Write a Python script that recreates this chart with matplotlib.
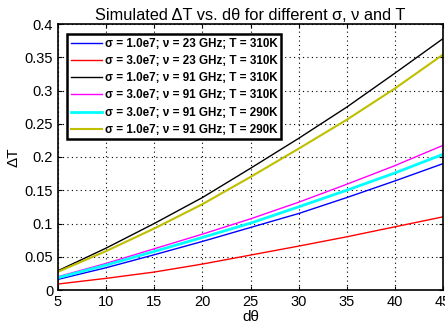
import matplotlib
matplotlib.use("Agg")
import matplotlib.pyplot as plt
from matplotlib.ticker import FuncFormatter

plt.rcParams['font.family'] = ['Liberation Sans', 'DejaVu Sans']

dtheta = [5, 10, 15, 20, 25, 30, 35, 40, 45]
blue = [0.016, 0.0335, 0.053, 0.073, 0.094, 0.115, 0.139, 0.164, 0.19]
red = [0.009, 0.0175, 0.027, 0.039, 0.0525, 0.066, 0.08, 0.095, 0.11]
black = [0.029, 0.063, 0.100, 0.139, 0.183, 0.228, 0.275, 0.326, 0.378]
magenta = [0.02, 0.04, 0.062, 0.084, 0.107, 0.132, 0.159, 0.187, 0.2175]
cyan = [0.0185, 0.0375, 0.058, 0.079, 0.1005, 0.125, 0.15, 0.176, 0.204]
yellow = [0.0275, 0.0585, 0.0925, 0.129, 0.17, 0.2125, 0.256, 0.303, 0.354]

labels = [
    "σ = 1.0e7; ν = 23 GHz; T = 310K",
    "σ = 3.0e7; ν = 23 GHz; T = 310K",
    "σ = 1.0e7; ν = 91 GHz; T = 310K",
    "σ = 3.0e7; ν = 91 GHz; T = 310K",
    "σ = 3.0e7; ν = 91 GHz; T = 290K",
    "σ = 1.0e7; ν = 91 GHz; T = 290K",
]
series = [blue, red, black, magenta, cyan, yellow]
colors = ['#0000ff', '#ff0000', '#000000', '#ff00ff', '#00ffff', '#bfbf00']
widths = [1.0, 1.0, 1.0, 1.0, 2.0, 1.5]

xticks = [5, 10, 15, 20, 25, 30, 35, 40, 45]
yticks = [0, 0.05, 0.1, 0.15, 0.2, 0.25, 0.3, 0.35, 0.4]

fig = plt.figure(figsize=(4.45, 3.31), dpi=100)
ax = fig.add_axes([58/445, 41/331, 385/445, 266/331])

for y, c, lw, lab in zip(series, colors, widths, labels):
    ax.plot(dtheta, y, color=c, lw=lw, label=lab)

ax.set_xlim(5, 45)
ax.set_ylim(0, 0.4)
ax.set_xticks(xticks)
ax.set_yticks(yticks)
ax.yaxis.set_major_formatter(FuncFormatter(lambda v, p: '%g' % round(v, 3)))
ax.tick_params(direction='in', top=True, right=True, labelsize=10.5, length=3, width=0.8, colors='black')
ax.grid(True, linestyle=(0, (1, 3)), color='black', linewidth=0.8)
for s in ax.spines.values():
    s.set_linewidth(1.2)

ax.set_title("Simulated ΔT vs. dθ for different σ, ν and T", fontsize=11.8, pad=3)
ax.set_xlabel("dθ", fontsize=11, labelpad=1)
ax.set_ylabel("ΔT", fontsize=11, labelpad=3)

leg = ax.legend(loc='upper left', prop={'weight': 'bold', 'size': 8.4}, frameon=True,
                fancybox=False, edgecolor='black', framealpha=1, handlelength=2.7,
                handletextpad=0.2, labelspacing=0.45, borderpad=0.3,
                bbox_to_anchor=(0.024, 0.962), borderaxespad=0)
leg.get_frame().set_linewidth(1.8)

fig.savefig("out.png", dpi=100)
